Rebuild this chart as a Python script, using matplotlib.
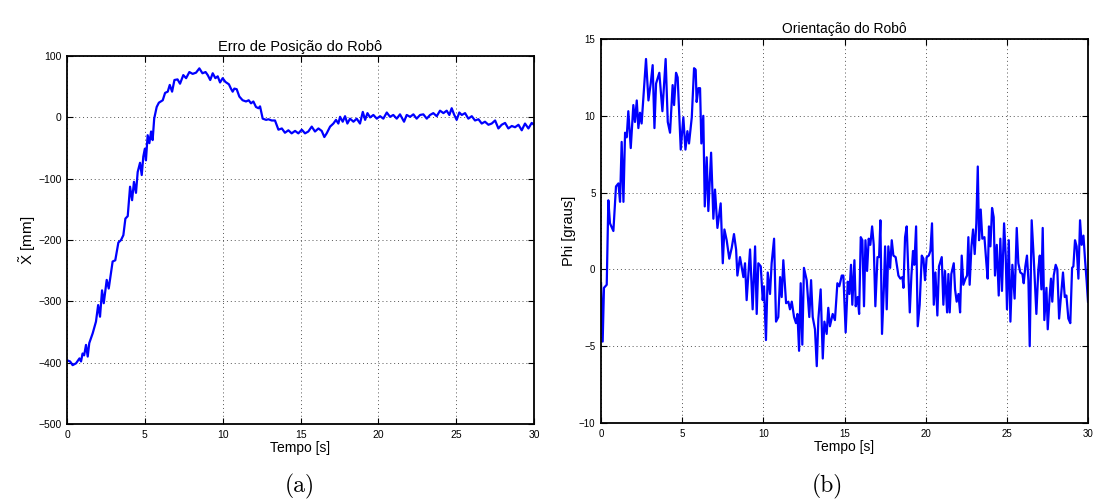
import numpy as np
import matplotlib
matplotlib.use('Agg')
import matplotlib.pyplot as plt

# Erro de posicao (a): tempo [s] e erro [mm]
t_pos = [0.0, 0.2, 0.36, 0.58, 0.8, 0.9, 1.0, 1.1, 1.22, 1.33, 1.43, 1.65, 1.86, 2.0,
         2.12, 2.25, 2.36, 2.55, 2.68, 2.93, 3.1, 3.3, 3.47, 3.62, 3.75, 3.9, 4.05,
         4.18, 4.3, 4.43, 4.54, 4.69, 4.8, 4.9, 5.0, 5.07, 5.18, 5.29, 5.4, 5.5, 5.6,
         5.76, 5.9, 6.15, 6.3, 6.47, 6.6, 6.75, 6.9, 7.1, 7.26, 7.47, 7.65, 7.86,
         8.07, 8.29, 8.5, 8.7, 8.9, 9.04, 9.2, 9.36, 9.53, 9.68, 9.83, 10.0, 10.17,
         10.4, 10.53, 10.64, 10.75, 10.9, 11.07, 11.28, 11.5, 11.67, 11.82, 11.97,
         12.14, 12.3, 12.4, 12.57, 12.79, 12.94, 13.15, 13.36, 13.58, 13.8, 14.0,
         14.22, 14.43, 14.65, 14.86, 15.08, 15.29, 15.5, 15.72, 15.93, 16.15, 16.36,
         16.53, 16.68, 16.9, 17.11, 17.28, 17.43, 17.54, 17.71, 17.86, 18.01, 18.18,
         18.4, 18.61, 18.82, 19.0, 19.15, 19.3, 19.47, 19.68, 19.9, 20.11, 20.32,
         20.54, 20.75, 20.96, 21.18, 21.39, 21.65, 21.82, 22.04, 22.25, 22.46, 22.68,
         22.89, 23.11, 23.32, 23.53, 23.75, 23.96, 24.18, 24.39, 24.56, 24.71, 24.86,
         25.03, 25.2, 25.36, 25.57, 25.78, 26.0, 26.21, 26.43, 26.64, 26.85, 27.07,
         27.28, 27.5, 27.71, 27.92, 28.14, 28.35, 28.57, 28.78, 29.0, 29.21, 29.42,
         29.64, 29.85, 30.0]
x_err = [-396, -398, -404, -401, -393, -398, -385, -388, -371, -390, -368, -352, -333,
         -306, -325, -282, -303, -265, -279, -235, -233, -204, -200, -192, -165, -161,
         -113, -135, -105, -123, -89, -74, -94, -64, -51, -70, -29, -42, -23, -37, -2,
         17, 24, 28, 40, 42, 53, 42, 61, 62, 55, 69, 64, 74, 71, 73, 80, 72, 74, 69,
         61, 72, 64, 67, 57, 64, 58, 54, 47, 42, 47, 46, 34, 28, 26, 28, 23, 26, 17,
         15, 18, -2, -4, -3, -5, -5, -20, -18, -25, -21, -26, -22, -26, -20, -26, -23,
         -15, -23, -18, -22, -32, -26, -15, -10, -4, -10, 1, -7, 2, -10, -2, -7, -2,
         -10, 9, -4, 7, 0, 4, -2, 2, -2, 8, 1, 4, -2, 5, -7, 4, 1, 5, -2, 4, 5, -2, 4,
         7, 2, 11, 7, 11, 4, 15, 5, -4, 8, 4, 7, -2, 2, -5, -3, -10, -7, -12, -10, -5,
         -18, -12, -9, -18, -14, -16, -12, -21, -10, -18, -9, -12]

# Orientacao (b): tempo [s] e phi [graus]
t_phi = [0.0, 0.1, 0.18, 0.35, 0.45, 0.55, 0.76, 0.92, 1.07, 1.17, 1.27, 1.38, 1.48,
         1.58, 1.68, 1.83, 1.99, 2.09, 2.2, 2.3, 2.4, 2.5, 2.61, 2.77, 2.92, 3.06,
         3.18, 3.29, 3.39, 3.59, 3.78, 3.98, 4.11, 4.25, 4.41, 4.5, 4.62, 4.72, 4.91,
         5.07, 5.2, 5.32, 5.42, 5.59, 5.73, 5.83, 5.89, 6.0, 6.1, 6.18, 6.3, 6.39,
         6.51, 6.61, 6.78, 6.92, 7.02, 7.17, 7.37, 7.5, 7.6, 7.74, 7.9, 8.05, 8.19,
         8.32, 8.4, 8.56, 8.77, 8.87, 8.97, 9.18, 9.34, 9.49, 9.59, 9.69, 9.84, 9.96,
         10.04, 10.16, 10.27, 10.41, 10.51, 10.66, 10.78, 10.92, 11.03, 11.13, 11.23,
         11.4, 11.54, 11.64, 11.75, 11.89, 12.01, 12.1, 12.2, 12.3, 12.4, 12.5, 12.67,
         12.83, 12.94, 13.04, 13.18, 13.29, 13.39, 13.53, 13.66, 13.76, 13.9, 14.0,
         14.1, 14.27, 14.41, 14.56, 14.68, 14.83, 14.93, 15.07, 15.2, 15.3, 15.4,
         15.48, 15.61, 15.69, 15.81, 15.9, 16.0, 16.1, 16.2, 16.29, 16.39, 16.49,
         16.59, 16.7, 16.8, 16.9, 17.03, 17.13, 17.21, 17.31, 17.42, 17.5, 17.6, 17.7,
         17.81, 17.91, 18.01, 18.15, 18.32, 18.44, 18.57, 18.63, 18.73, 18.83, 18.91,
         19.02, 19.12, 19.22, 19.3, 19.41, 19.51, 19.63, 19.76, 19.86, 19.96, 20.06,
         20.19, 20.29, 20.39, 20.5, 20.6, 20.72, 20.82, 20.99, 21.09, 21.19, 21.32,
         21.4, 21.48, 21.58, 21.73, 21.81, 21.91, 22.02, 22.12, 22.22, 22.32, 22.45,
         22.55, 22.63, 22.71, 22.82, 22.92, 23.02, 23.12, 23.21, 23.29, 23.39, 23.49,
         23.62, 23.74, 23.82, 23.9, 23.99, 24.09, 24.19, 24.27, 24.38, 24.5, 24.6,
         24.7, 24.83, 24.93, 25.01, 25.12, 25.22, 25.34, 25.48, 25.61, 25.71, 25.83,
         25.96, 26.04, 26.14, 26.24, 26.33, 26.41, 26.53, 26.66, 26.82, 26.94, 27.03,
         27.13, 27.21, 27.31, 27.44, 27.52, 27.64, 27.72, 27.8, 27.89, 28.01, 28.11,
         28.22, 28.34, 28.46, 28.57, 28.67, 28.79, 28.91, 29.02, 29.1, 29.2, 29.3,
         29.41, 29.51, 29.61, 29.72, 29.82, 29.92, 30.0]
phi = [-0.9, -4.7, -1.2, -1.0, 4.5, 3.0, 2.5, 5.4, 5.6, 4.4, 8.3, 4.4, 8.9, 8.6, 10.3,
       7.9, 10.7, 9.6, 11.0, 9.2, 10.2, 9.5, 11.2, 13.7, 11.0, 12.1, 13.3, 9.2, 12.1,
       12.8, 10.3, 13.7, 9.6, 8.9, 12.0, 10.7, 12.8, 12.5, 7.8, 9.9, 7.8, 9.0, 8.2,
       9.9, 13.1, 13.0, 10.9, 11.8, 11.8, 8.2, 10.0, 4.1, 7.3, 3.8, 7.6, 3.3, 5.2, 2.7,
       4.3, 0.4, 2.6, 1.9, 0.7, 1.4, 2.3, 1.3, -0.4, 0.8, -0.5, 0.4, -2.0, 1.3, -2.6,
       1.5, -2.9, 0.4, 0.2, -2.0, -1.1, -4.6, -0.2, -1.6, 0.4, 2.0, -3.4, -3.1, -0.5,
       -1.8, 0.6, -2.2, -2.1, -2.6, -2.1, -3.1, -3.5, -2.9, -5.3, -0.9, -4.9, 0.1,
       -0.7, -3.1, -0.7, -3.1, -3.9, -6.3, -3.2, -1.3, -5.8, -3.4, -4.2, -2.5, -3.7,
       -2.9, -3.3, -0.9, -1.1, -0.4, -0.4, -4.1, -0.8, -1.6, 0.3, -2.3, 0.6, -2.4,
       -1.8, -2.9, 2.1, 1.9, -2.4, 1.9, -0.1, 2.0, 1.6, 2.8, 1.6, -2.4, 0.8, 0.8, 3.2,
       -4.2, -1.3, 1.5, -2.6, 1.5, 0.1, 1.9, 0.9, 0.8, -0.4, -0.6, -0.5, -1.2, 2.1,
       2.8, 0.4, -2.8, -0.4, 1.2, 0.3, 2.8, -3.7, -2.3, 0.9, 0.7, -0.7, 0.8, 0.9, 1.2,
       3.0, -2.3, -0.2, -3.0, 0.2, 0.8, -2.3, -0.1, -2.8, -0.3, -2.8, -0.3, 0.4, -1.3,
       -2.1, -1.6, -2.8, 0.9, -1.0, -0.6, -0.4, 2.1, -1.0, 1.5, 2.6, 1.0, 3.0, 6.7,
       1.9, 3.9, 2.0, 2.1, 0.4, -0.6, 2.8, 1.5, 4.0, 3.4, -0.4, 1.6, -1.7, 2.0, -1.4,
       3.0, 0.9, -2.6, 1.9, -3.4, 0.3, -1.9, 2.7, 0.4, -0.2, -0.3, -0.9, 0.2, 0.9,
       -0.7, -5.0, 3.2, 0.7, -2.9, 0.0, 0.9, -1.3, 2.7, -3.3, -1.2, -3.9, -1.7, -0.6,
       -2.1, -0.4, 0.3, 0.0, -3.2, -1.7, -0.2, -1.8, -1.7, -3.2, -3.5, 0.1, 0.2, 1.9,
       1.5, -0.6, 3.2, 1.6, 2.2, 0.6, -0.8, -2.1]

x_ticks = [0, 5, 10, 15, 20, 25, 30]
pos_ticks = [-500, -400, -300, -200, -100, 0, 100]
phi_ticks = [-10, -5, 0, 5, 10, 15]

plt.rcParams['font.family'] = ['Liberation Sans', 'DejaVu Sans']
plt.rcParams['mathtext.fontset'] = 'custom'
plt.rcParams['mathtext.rm'] = 'Liberation Sans'
plt.rcParams['mathtext.it'] = 'Liberation Sans'
plt.rcParams['axes.unicode_minus'] = True


def style_axes(ax, tick_size):
    ax.grid(True, linestyle=(0, (1, 3)), color='#555555', linewidth=0.7)
    ax.tick_params(direction='in', top=True, right=True, length=4,
                   labelsize=tick_size, width=0.8, pad=4)
    for s in ax.spines.values():
        s.set_linewidth(1.3)


fig = plt.figure(figsize=(10.95, 5.04), dpi=100)

ax1 = fig.add_axes([0.0612, 0.1587, 0.4265, 0.730])
ax1.plot(t_pos, x_err, color='#0000ff', linewidth=1.6)
ax1.set_xlim(0, 30)
ax1.set_ylim(-500, 100)
ax1.set_xticks(x_ticks)
ax1.set_yticks(pos_ticks)
style_axes(ax1, 7.5)
ax1.set_title('Erro de Posição do Robô', fontsize=10.5, pad=4)
ax1.set_xlabel('Tempo [s]', fontsize=10, labelpad=1)
ax1.set_ylabel(r'$\tilde{\mathrm{X}}$ [mm]', fontsize=11, labelpad=0)

ax2 = fig.add_axes([0.5489, 0.1607, 0.4447, 0.7619])
ax2.plot(t_phi, phi, color='#0000ff', linewidth=1.6)
ax2.set_xlim(0, 30)
ax2.set_ylim(-10, 15)
ax2.set_xticks(x_ticks)
ax2.set_yticks(phi_ticks)
style_axes(ax2, 7)
ax2.set_title('Orientação do Robô', fontsize=10, pad=4)
ax2.set_xlabel('Tempo [s]', fontsize=10, labelpad=1)
ax2.set_ylabel('Phi [graus]', fontsize=10.5, labelpad=2)

fig.text(0.274, 0.035, '(a)', family='cmr10', fontsize=17, ha='center', va='center')
fig.text(0.756, 0.035, '(b)', family='cmr10', fontsize=17, ha='center', va='center')

fig.savefig('out.png', dpi=100)
